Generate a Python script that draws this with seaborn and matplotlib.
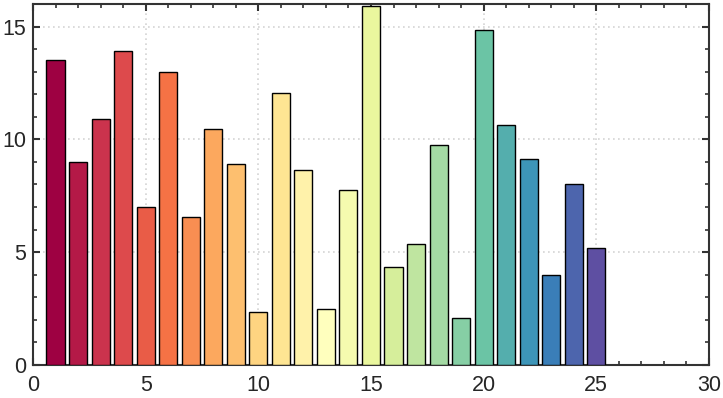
import matplotlib
matplotlib.use("Agg")
import matplotlib.pyplot as plt
import seaborn as sns
import numpy as np
import pandas as pd
from matplotlib.ticker import MultipleLocator

positions = list(range(1, 26))
values = [13.5, 9.0, 10.9, 13.9, 7.0, 13.0, 6.55, 10.45, 8.9, 2.35,
          12.05, 8.65, 2.5, 7.75, 15.9, 4.35, 5.35, 9.75, 2.1, 14.85,
          10.65, 9.15, 4.0, 8.0, 5.2]
xticks = [0, 5, 10, 15, 20, 25, 30]
yticks = [0, 5, 10, 15]

sns.set_theme(style="white")
plt.rcParams['font.family'] = ['Liberation Sans', 'DejaVu Sans']

df = pd.DataFrame({"pos": positions, "val": values})
cmap = plt.get_cmap("Spectral")
colors = [cmap(t) for t in np.linspace(0, 1, len(positions))]

fig = plt.figure(figsize=(7.23, 3.98), dpi=100)
ax = fig.add_axes([0.0456, 0.083, 0.935, 0.907])
sns.barplot(data=df, x="pos", y="val", hue="pos", palette=colors, legend=False,
            native_scale=True, width=0.8, edgecolor="black", linewidth=1.0,
            saturation=1, ax=ax, zorder=3)

ax.set_xlim(0, 30)
ax.set_ylim(0, 16)
ax.set_xticks(xticks)
ax.set_yticks(yticks)
ax.xaxis.set_minor_locator(MultipleLocator(1))
ax.yaxis.set_minor_locator(MultipleLocator(1))
ax.tick_params(which="both", direction="in", top=True, right=True,
               bottom=True, left=True, color="#333333")
ax.tick_params(which="major", length=5, width=1.5, labelsize=15.5, labelcolor="#262626")
ax.tick_params(axis="x", which="major", pad=7)
ax.tick_params(axis="y", which="major", pad=5)
ax.tick_params(which="minor", length=3, width=1.2)
ax.grid(True, which="major", linestyle=(0, (1, 2)), color="#d4d4d4", linewidth=1.2, zorder=0)
ax.set_axisbelow(True)
for s in ax.spines.values():
    s.set_color("#333333")
    s.set_linewidth(1.5)
ax.set_xlabel("")
ax.set_ylabel("")

fig.savefig("out.png", dpi=100)
